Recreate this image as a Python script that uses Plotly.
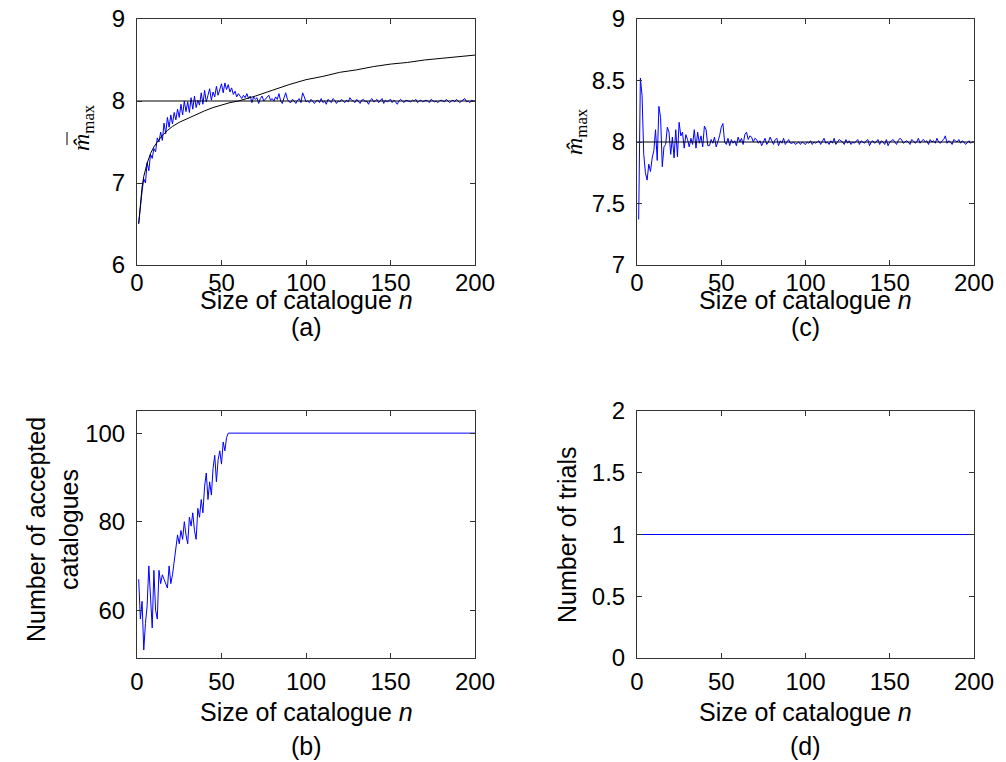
import plotly.graph_objects as go

# ---------------- data ----------------
n_values = list(range(1, 201))

a_blue = [
    6.51, 6.75, 6.9, 7.05, 7.0, 7.25, 7.15, 7.35, 7.3, 7.42,
    7.38, 7.55, 7.5, 7.62, 7.52, 7.73, 7.6, 7.8, 7.68, 7.83,
    7.72, 7.86, 7.77, 7.9, 7.8, 7.96, 7.83, 8.0, 7.87, 7.99,
    7.86, 8.04, 7.9, 8.06, 7.92, 8.01, 7.95, 8.1, 7.96, 8.13,
    7.99, 8.07, 8.15, 8.01, 8.11, 8.05, 8.18, 8.07, 8.13, 8.21,
    8.1, 8.22, 8.14, 8.2, 8.11, 8.16, 8.08, 8.12, 8.05, 8.09,
    8.06, 8.03, 8.07, 8.04, 8.09, 8.03, 8.06, 7.98, 8.05, 8.02,
    8.04, 7.97, 8.03, 8.06, 8.0, 8.02, 8.05, 8.07, 8.01, 8.03,
    8.0, 8.05, 8.02, 8.09, 8.0, 7.97, 8.04, 8.1, 8.02, 7.99,
    7.98, 8.02, 8.0, 7.97, 8.01, 8.03, 7.98, 8.1, 8.05, 7.99,
    8.0, 7.98, 8.02, 7.99, 7.97, 8.0, 8.01, 7.98, 8.03, 7.98,
    8.0, 7.96, 8.02, 8.0, 7.98, 8.03, 8.01, 7.97, 8.0, 7.99,
    8.02, 8.0, 7.98, 8.01, 7.99, 8.04, 8.01, 8.0, 7.98, 8.02,
    7.99, 7.97, 8.01, 8.02, 7.99, 8.0, 7.96, 8.01, 8.03, 7.99,
    8.0, 8.02, 7.98, 8.0, 8.03, 7.97, 8.01, 7.99, 8.0, 8.02,
    7.98, 8.01, 7.99, 7.96, 8.0, 8.02, 8.0, 7.98, 8.01, 8.0,
    8.0, 7.99, 8.01, 8.0, 8.02, 7.98, 8.0, 8.01, 7.99, 8.0,
    8.01, 8.0, 7.98, 8.02, 8.01, 7.99, 8.0, 7.98, 8.0, 8.01,
    8.0, 7.99, 8.02, 8.0, 7.98, 8.0, 8.01, 7.99, 8.02, 8.0,
    7.98, 8.0, 8.01, 8.03, 7.99, 8.0, 7.98, 8.01, 8.0, 8.0,
]

a_black_n = [1, 2, 3, 4, 5, 6, 8, 10, 12, 15, 18, 21, 25, 30, 35, 40, 45, 50, 55, 60,
             70, 80, 90, 100, 110, 120, 130, 140, 150, 160, 170, 180, 190, 200]
a_black = [6.5, 6.78, 6.95, 7.08, 7.17, 7.24, 7.36, 7.44, 7.5, 7.58, 7.64, 7.69, 7.74,
           7.79, 7.84, 7.88, 7.92, 7.95, 7.98, 8.0, 8.06, 8.13, 8.2, 8.26, 8.3, 8.35,
           8.38, 8.42, 8.45, 8.47, 8.5, 8.52, 8.54, 8.56]

true_mmax = 8.0

c_blue = [
    7.37, 8.52, 8.38, 7.9, 7.75, 7.69, 7.82, 7.76, 7.87, 7.93,
    8.1, 7.85, 8.29, 8.2, 7.8, 7.96, 7.98, 8.12, 8.08, 7.9,
    8.04, 7.87, 8.1, 7.88, 8.16, 8.05, 8.08, 7.95, 8.06, 8.02,
    7.96, 8.03, 7.98, 8.1, 7.95, 8.08, 7.99, 8.05, 7.96, 8.13,
    8.1, 7.97, 7.97, 8.02, 7.99, 8.04, 7.96, 8.0, 8.05, 8.12,
    8.15, 8.0, 7.98, 8.03, 7.97, 8.02, 7.99, 8.01, 7.97, 8.04,
    8.0, 8.03, 7.98, 8.06, 8.08, 8.02, 8.05, 8.04, 8.0, 8.03,
    8.02, 7.99, 8.01, 7.97, 8.0, 8.03, 7.98, 8.0, 8.04, 8.01,
    7.98, 8.02, 8.03, 7.97, 8.01, 7.99, 8.03, 7.98, 8.0, 8.02,
    7.99, 7.99, 8.0, 7.98, 7.99, 8.0, 7.98, 8.0, 7.99, 7.98,
    8.0, 7.99, 8.01, 7.98, 8.0, 7.99, 8.0, 8.01, 7.98, 8.0,
    8.03, 7.99, 8.0, 7.98, 8.01, 7.99, 8.03, 7.98, 8.0, 8.02,
    8.01, 8.0, 7.98, 8.02, 7.99, 8.01, 7.98, 8.0, 7.99, 8.01,
    8.02, 7.98, 8.01, 8.0, 7.99, 8.01, 8.02, 7.97, 8.0, 8.01,
    7.99, 8.0, 8.02, 7.98, 8.01, 8.0, 7.98, 8.02, 7.97, 8.0,
    8.01, 8.02, 8.0, 7.98, 8.01, 8.03, 8.02, 7.99, 8.0, 8.01,
    8.0, 7.98, 8.02, 8.01, 7.99, 8.0, 8.03, 7.99, 8.01, 8.02,
    8.0, 8.01, 7.98, 8.02, 8.0, 8.01, 7.99, 8.03, 8.0, 7.99,
    8.01, 8.02, 8.05, 7.99, 8.01, 8.0, 7.98, 8.02, 8.01, 8.0,
    8.02, 7.99, 8.01, 8.0, 7.98, 8.0, 8.01, 7.99, 8.0, 8.0,
]

b_accepted = [
    67, 58, 62, 51, 57, 61, 70, 64, 56, 69,
    60, 58, 69, 66, 68, 67, 66, 65, 70, 66,
    68, 71, 73, 77, 75, 78, 76, 80, 77, 75,
    81, 79, 82, 78, 76, 83, 81, 85, 82, 88,
    91, 85, 89, 86, 92, 95, 89, 94, 96, 93,
    98, 96, 99,
] + [100] * 147

d_trials = [1] * 200

x_ticks = [0, 50, 100, 150, 200]
a_yticks = [6, 7, 8, 9]
c_yticks = [7, 7.5, 8, 8.5, 9]
b_yticks = [60, 80, 100]
d_yticks = [0, 0.5, 1, 1.5, 2]

# ---------------- layout helpers ----------------
OFF = 8                     # default page body margin
W, H = 1006 - OFF, 762 - OFF
BLUE = "#0000ff"
FONT = "Liberation Sans, Arial, sans-serif"
SERIF = "Liberation Serif, Times New Roman, serif"
FS_TICK = 24
FS_TITLE = 25


def px_x(p):
    return (p - OFF) / W


def px_y(p):
    return 1 - (p - OFF) / H


panels = {
    "a": dict(x0=137, x1=475, y0=19, y1=265, xstand=-4, title=300, lab=327),
    "c": dict(x0=637, x1=974, y0=19, y1=265, xstand=-4, title=300, lab=327),
    "b": dict(x0=137, x1=475, y0=411, y1=658, xstand=2, title=712, lab=746),
    "d": dict(x0=637, x1=974, y0=411, y1=658, xstand=2, title=712, lab=746),
}

fig = go.Figure()

# (a)
fig.add_trace(go.Scatter(x=n_values, y=a_blue, mode="lines", line=dict(color=BLUE, width=1),
                         xaxis="x", yaxis="y", showlegend=False))
fig.add_trace(go.Scatter(x=a_black_n, y=a_black, mode="lines", line=dict(color="black", width=1),
                         xaxis="x", yaxis="y", showlegend=False))
fig.add_trace(go.Scatter(x=[0, 200], y=[true_mmax, true_mmax], mode="lines",
                         line=dict(color="black", width=1), xaxis="x", yaxis="y", showlegend=False))
# (c)
fig.add_trace(go.Scatter(x=n_values, y=c_blue, mode="lines", line=dict(color=BLUE, width=1),
                         xaxis="x2", yaxis="y2", showlegend=False))
fig.add_trace(go.Scatter(x=[0, 200], y=[true_mmax, true_mmax], mode="lines",
                         line=dict(color="black", width=1.2), xaxis="x2", yaxis="y2", showlegend=False))
# (b)
fig.add_trace(go.Scatter(x=n_values, y=b_accepted, mode="lines", line=dict(color=BLUE, width=1),
                         xaxis="x3", yaxis="y3", showlegend=False))
# (d)
fig.add_trace(go.Scatter(x=n_values, y=d_trials, mode="lines", line=dict(color=BLUE, width=1),
                         xaxis="x4", yaxis="y4", showlegend=False))


def axis_common():
    return dict(showline=True, linecolor="#333333", linewidth=1, mirror="ticks",
                ticks="inside", ticklen=5, tickcolor="#333333", showgrid=False,
                zeroline=False, automargin=False, ticklabeloverflow="allow",
                tickfont=dict(family=FONT, size=FS_TICK, color="black"))


layout = dict(width=W, height=H, margin=dict(l=0, r=0, t=0, b=0, autoexpand=False),
              paper_bgcolor="white", plot_bgcolor="white", showlegend=False,
              template="none")

specs = [("a", "", [6, 9], a_yticks), ("c", "2", [7, 9], c_yticks),
         ("b", "3", [49.2, 105], b_yticks), ("d", "4", [0, 2], d_yticks)]
for key, suf, yr, yt in specs:
    p = panels[key]
    xa = axis_common()
    xa.update(domain=[px_x(p["x0"]), px_x(p["x1"])], range=[0, 200], tickvals=x_ticks,
              anchor="y" + suf, ticklabelstandoff=p["xstand"])
    ya = axis_common()
    ya.update(domain=[px_y(p["y1"]), px_y(p["y0"])], range=yr, tickvals=yt,
              anchor="x" + suf, ticklabelstandoff=6)
    layout["xaxis" + suf] = xa
    layout["yaxis" + suf] = ya

fig.update_layout(**layout)


def note(x, y, text, size=FS_TITLE, family=FONT, angle=0):
    return dict(x=px_x(x), y=px_y(y), xref="paper", yref="paper", showarrow=False,
                xanchor="center", yanchor="middle", textangle=angle, text=text,
                font=dict(family=family, size=size, color="black"))


ann = []
for key, lab in [("a", "(a)"), ("c", "(c)"), ("b", "(b)"), ("d", "(d)")]:
    p = panels[key]
    cx = (p["x0"] + p["x1"]) / 2
    ann.append(note(cx, p["title"], "Size of catalogue <i>n</i>"))
    ann.append(note(cx, p["lab"], lab))

ann.append(note(83, 128, "<i>m\u0302</i><sub>max</sub>", size=24, family=SERIF, angle=-90))
ann.append(note(576, 132, "<i>m\u0302</i><sub>max</sub>", size=24, family=SERIF, angle=-90))
ann.append(note(52, 530, "Number of accepted<br>catalogues", angle=-90))
ann.append(note(567, 535, "Number of trials", angle=-90))

fig.update_layout(annotations=ann)
# overbar above the hat in the (a) y-label
fig.add_shape(type="line", xref="paper", yref="paper", x0=px_x(67), x1=px_x(67),
              y0=px_y(132), y1=px_y(145), line=dict(color="black", width=1))
fig.write_html("out.html")
